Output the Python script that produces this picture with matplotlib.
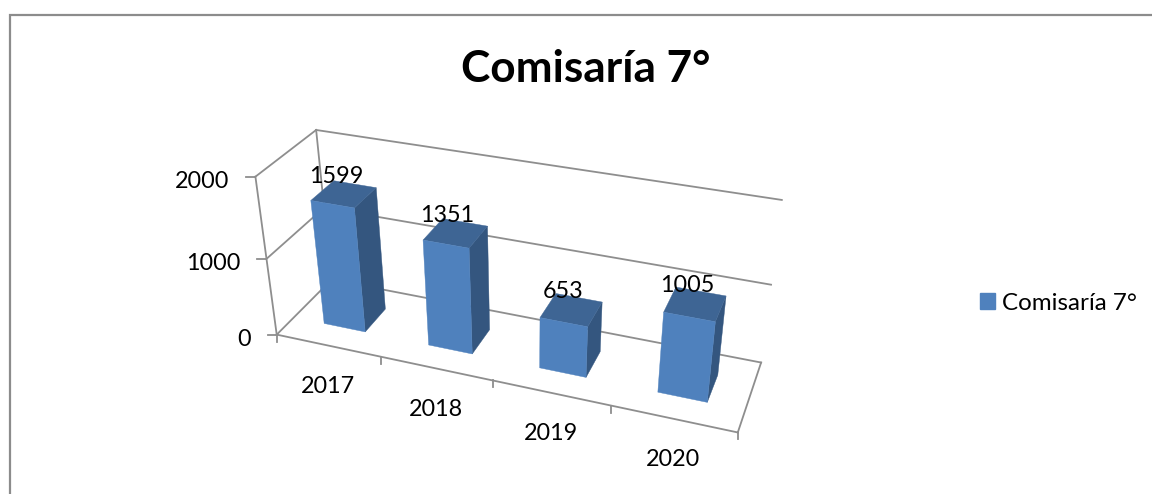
import numpy as np
import matplotlib
matplotlib.use('Agg')
import matplotlib.pyplot as plt
from matplotlib.patches import Patch

# datos
years = ['2017', '2018', '2019', '2020']
values = [1599, 1351, 653, 1005]
series_name = 'Comisaría 7°'
y_ticks = [0, 1000, 2000]

front_color = '#4F81BD'
side_color = '#34567F'
top_color = '#3E6594'
line_color = '#8E8E8E'

plt.rcParams['font.family'] = ['Lato', 'DejaVu Sans']

# calibracion de la perspectiva: (categoria, valor, fondo) -> pixel
calib_3d = [(0, 0, 0), (0, 1000, 0), (0, 2000, 0), (1, 0, 0), (3, 0, 0), (4, 0, 0),
            (0, 0, 1), (0, 1000, 1), (0, 2000, 1), (4, 0, 1), (4, 1000, 1), (4, 2000, 1)]
calib_px = [(276, 334), (267, 258), (256, 177), (381, 358), (611, 406), (738, 432),
            (333, 280), (322.6, 207.4), (316, 130), (761, 362), (771, 285), (782, 200)]

rows = []
for (a, b, c), (u, v) in zip(calib_3d, calib_px):
    b = b / 1000
    rows.append([a, b, c, 1, 0, 0, 0, 0, -u*a, -u*b, -u*c, -u])
    rows.append([0, 0, 0, 0, a, b, c, 1, -v*a, -v*b, -v*c, -v])
P = np.linalg.svd(np.array(rows, dtype=float))[2][-1].reshape(3, 4)


def project(cat, val, depth):
    h = P @ np.array([cat, val / 1000, depth, 1.0])
    return h[0] / h[2], h[1] / h[2]


fig = plt.figure(figsize=(11.52, 4.94), dpi=100)
ax = fig.add_axes([0, 0, 1, 1])
ax.set_xlim(0, 1152)
ax.set_ylim(494, 0)
ax.axis('off')

# marco exterior
ax.plot([10, 10, 1152], [494, 15, 15], color='#8C8C8C', lw=1.6, solid_joinstyle='miter')


def line3d(p1, p2):
    a = project(*p1)
    b = project(*p2)
    ax.plot([a[0], b[0]], [a[1], b[1]], color=line_color, lw=1.3, zorder=1)


# paredes y rejilla
for t in y_ticks:
    line3d((0, t, 0), (0, t, 1))
    line3d((0, t, 1), (4, t, 1))
    x0, y0 = project(0, t, 0)
    ax.plot([x0 - 9, x0], [y0, y0], color=line_color, lw=1.3, zorder=1)
    ax.annotate(str(t), (x0 - 9, y0), xytext=(-17, -5), textcoords='offset pixels',
                ha='right', va='center', fontsize=16.8, color='black')
line3d((0, 0, 0), (0, 2000, 0))
line3d((0, 0, 0), (4, 0, 0))
line3d((4, 0, 0), (4, 0, 1))
line3d((0, 0, 1), (0, 2000, 1))

for i in range(5):
    x0, y0 = project(i, 0, 0)
    ax.plot([x0, x0], [y0, y0 + 7], color=line_color, lw=1.3, zorder=1)

for i, year in enumerate(years):
    ax.annotate(year, project(i + 0.5, 0, 0), xytext=(0, -41), textcoords='offset pixels',
                ha='center', va='center', fontsize=16.8, color='black')

# barras
bar_w = 0.4
for i, val in enumerate(values):
    x1 = i + 0.5 - bar_w / 2
    x2 = i + 0.5 + bar_w / 2
    z1, z2 = 0.3, 0.7
    faces = [
        ([(x2, 0, z1), (x2, 0, z2), (x2, val, z2), (x2, val, z1)], side_color),
        ([(x1, val, z1), (x2, val, z1), (x2, val, z2), (x1, val, z2)], top_color),
        ([(x1, 0, z1), (x2, 0, z1), (x2, val, z1), (x1, val, z1)], front_color),
    ]
    for corners, color in faces:
        pts = [project(*c) for c in corners]
        ax.fill([p[0] for p in pts], [p[1] for p in pts], color=color, lw=0.3, zorder=2 + i)
    ax.annotate(str(val), project(i + 0.5, val, 0.5), xytext=(-8, 18), textcoords='offset pixels',
                ha='center', va='center', fontsize=16.8, color='black', zorder=10)

ax.text(586, 69, series_name, ha='center', va='center', fontsize=31.8, fontweight='bold', color='black')

ax.legend(handles=[Patch(color=front_color, label=series_name)], loc='center left',
          bbox_to_anchor=(972, 303), bbox_transform=ax.transData, frameon=False,
          fontsize=17.4, handlelength=0.6, handleheight=0.6, handletextpad=0.3,
          borderpad=0, borderaxespad=0.35)

fig.savefig('out.png', dpi=100)
